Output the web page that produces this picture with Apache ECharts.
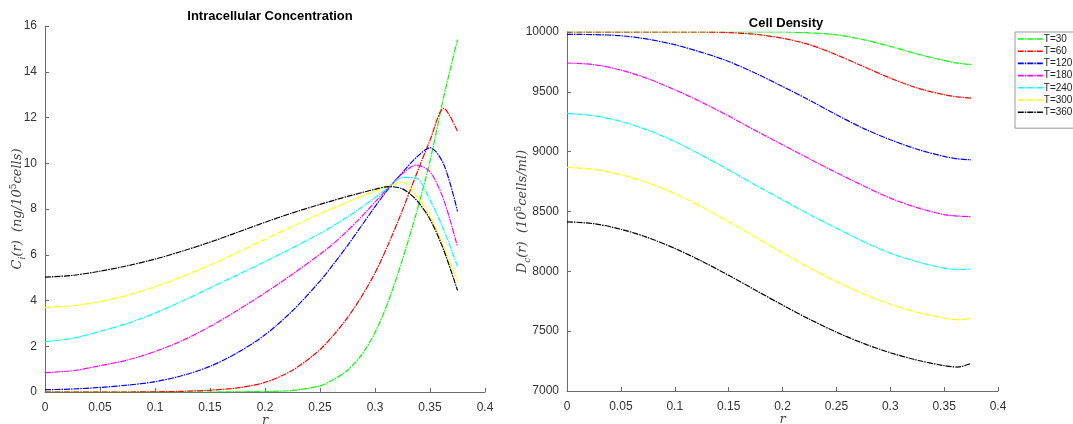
<!DOCTYPE html>
<html>
<head>
<meta charset="utf-8">
<script src="https://cdn.jsdelivr.net/npm/echarts@6/dist/echarts.min.js"></script>
<style>
	html, body { margin: 0; padding: 0; background: #fff; }
	#main { width: 1073px; height: 424px; }
</style>
</head>
<body>
<div id="main"></div>
<script>
// radial positions (left plot has extra points near the edge)
var leftR = [0, 0.025, 0.05, 0.075, 0.1, 0.125, 0.15, 0.175, 0.2, 0.225, 0.25, 0.2625, 0.275, 0.2875, 0.3, 0.3125, 0.325, 0.3375, 0.35, 0.3625, 0.375];
var rightR = [0, 0.025, 0.05, 0.075, 0.1, 0.125, 0.15, 0.175, 0.2, 0.225, 0.25, 0.275, 0.3, 0.325, 0.35, 0.3625, 0.375];

var names = ['T=30', 'T=60', 'T=120', 'T=180', 'T=240', 'T=300', 'T=360'];
var colors = ['#00ff00', '#ff0000', '#0000ff', '#ff00ff', '#00ffff', '#ffff00', '#000000'];

// intracellular concentration Ci(r)
var conc30  = [0, 0, 0, 0, 0, 0, 0, 0.01, 0.02, 0.07, 0.27, 0.55, 0.95, 1.6, 2.6, 4.0, 5.8, 7.8, 10.1, 12.9, 15.4];
var conc60  = [0, 0, 0, 0, 0.01, 0.03, 0.08, 0.18, 0.42, 0.95, 1.85, 2.5, 3.25, 4.15, 5.2, 6.5, 7.95, 9.5, 11.0, 12.4, 11.4];
var conc120 = [0.1, 0.13, 0.2, 0.3, 0.45, 0.72, 1.12, 1.72, 2.5, 3.55, 4.85, 5.6, 6.4, 7.25, 8.1, 8.9, 9.6, 10.25, 10.68, 9.95, 7.9];
var conc180 = [0.85, 0.93, 1.15, 1.4, 1.77, 2.25, 2.86, 3.57, 4.33, 5.15, 6.02, 6.5, 7.05, 7.65, 8.3, 8.95, 9.55, 9.92, 9.63, 8.4, 6.35];
var conc240 = [2.2, 2.35, 2.65, 3.0, 3.45, 3.98, 4.55, 5.12, 5.7, 6.3, 6.93, 7.28, 7.66, 8.07, 8.5, 8.95, 9.38, 9.35, 8.4, 7.1, 5.5];
var conc300 = [3.7, 3.77, 3.95, 4.23, 4.6, 5.05, 5.55, 6.1, 6.67, 7.24, 7.8, 8.05, 8.3, 8.55, 8.78, 9.0, 9.17, 8.6, 7.7, 6.36, 4.83];
var conc360 = [5.02, 5.1, 5.28, 5.52, 5.81, 6.16, 6.55, 6.98, 7.42, 7.83, 8.2, 8.38, 8.55, 8.71, 8.86, 8.98, 8.88, 8.4, 7.55, 6.2, 4.44];

// cell density Dc(r)
var dens30  = [10000, 10000, 10000, 10000, 10000, 10000, 10000, 10000, 10000, 9992, 9977, 9936, 9880, 9816, 9763, 9740, 9727];
var dens60  = [10000, 10000, 10000, 10000, 10000, 10000, 9995, 9980, 9948, 9894, 9810, 9712, 9615, 9532, 9476, 9458, 9448];
var dens120 = [9980, 9978, 9969, 9940, 9894, 9830, 9754, 9655, 9545, 9430, 9309, 9195, 9100, 9020, 8960, 8940, 8932];
var dens180 = [9741, 9727, 9682, 9610, 9518, 9413, 9298, 9176, 9058, 8940, 8825, 8715, 8612, 8532, 8474, 8462, 8457];
var dens240 = [9320, 9300, 9253, 9180, 9085, 8970, 8849, 8720, 8598, 8475, 8361, 8250, 8152, 8080, 8027, 8015, 8020];
var dens300 = [8868, 8852, 8808, 8740, 8650, 8540, 8415, 8285, 8155, 8030, 7915, 7812, 7725, 7658, 7610, 7594, 7608];
var dens360 = [8414, 8398, 8352, 8282, 8192, 8085, 7967, 7842, 7718, 7600, 7492, 7398, 7320, 7258, 7212, 7200, 7230];

var concList = [conc30, conc60, conc120, conc180, conc240, conc300, conc360];
var densList = [dens30, dens60, dens120, dens180, dens240, dens300, dens360];

var pairs = function(xs, ys) {
	return xs.map(function(x, i) { return [x, ys[i]]; });
};

var axisColor = '#6b6b6b';
var labelStyle = { color: '#333', fontFamily: 'Liberation Sans', fontSize: 12 };
var mathRich = {
	i: { fontFamily: 'DejaVu Serif', fontStyle: 'italic', fontSize: 13, color: '#444', lineHeight: 18 },
	s: { fontFamily: 'DejaVu Serif', fontStyle: 'italic', fontSize: 9, color: '#444', lineHeight: 10, verticalAlign: 'bottom' },
	p: { fontFamily: 'DejaVu Serif', fontSize: 9, color: '#444', lineHeight: 10, verticalAlign: 'top' }
};

var makeX = function(idx) {
	return {
		type: 'value', gridIndex: idx, min: 0, max: 0.4, interval: 0.05,
		name: 'r', nameLocation: 'middle', nameGap: 22, nameMoveOverlap: false,
		nameTextStyle: { fontFamily: 'DejaVu Serif', fontStyle: 'italic', fontSize: 13, color: '#444' },
		axisLine: { lineStyle: { color: axisColor } },
		axisTick: { inside: true, length: 4, lineStyle: { color: axisColor } },
		axisLabel: Object.assign({ margin: 10 }, labelStyle),
		splitLine: { show: false }
	};
};

var makeY = function(idx, min, max, step, name, gap) {
	return {
		type: 'value', gridIndex: idx, min: min, max: max, interval: step,
		name: name, nameLocation: 'middle', nameGap: gap, nameRotate: 90, nameMoveOverlap: false,
		nameTextStyle: { rich: mathRich },
		axisLine: { show: true, lineStyle: { color: axisColor } },
		axisTick: { show: true, inside: true, length: 4, lineStyle: { color: axisColor } },
		axisLabel: Object.assign({ formatter: function(v) { return String(v); } }, labelStyle),
		splitLine: { show: false }
	};
};

var series = [];
names.forEach(function(name, k) {
	var common = {
		name: name, type: 'line', smooth: 0.3, symbol: 'none',
		lineStyle: { color: colors[k], width: 1.2, type: [6, 1, 1.5, 1] },
		itemStyle: { color: colors[k] }
	};
	series.push(Object.assign({}, common, { xAxisIndex: 0, yAxisIndex: 0, data: pairs(leftR, concList[k]) }));
	series.push(Object.assign({}, common, { xAxisIndex: 1, yAxisIndex: 1, data: pairs(rightR, densList[k]) }));
});

var chart = echarts.init(document.getElementById('main'));
var option = {
	animation: false,
	backgroundColor: '#fff',
	title: [
		{ text: 'Intracellular Concentration', left: 265, textAlign: 'center', top: 5,
		  textStyle: { fontFamily: 'Liberation Sans', fontWeight: 'bold', fontSize: 13, color: '#000' } },
		{ text: 'Cell Density', left: 781, textAlign: 'center', top: 12,
		  textStyle: { fontFamily: 'Liberation Sans', fontWeight: 'bold', fontSize: 13, color: '#000' } }
	],
	legend: {
		orient: 'vertical', left: 1015, top: 32,
		data: names,
		itemWidth: 25, itemHeight: 8, itemGap: 0.2,
		padding: [1, 40, 10, 2],
		borderColor: '#999', borderWidth: 1,
		itemStyle: { opacity: 0 },
		lineStyle: { width: 1.6 },
		textStyle: { fontFamily: 'Liberation Sans', fontSize: 10, lineHeight: 12, color: '#222', padding: [0, 0, 0, -4] }
	},
	grid: [
		{ left: 45, top: 26, width: 440, height: 366, outerBoundsMode: 'none' },
		{ left: 567, top: 32, width: 431, height: 359, outerBoundsMode: 'none' }
	],
	xAxis: [makeX(0), makeX(1)],
	yAxis: [
		makeY(0, 0, 16, 2, '{i|C}{s|i}{i|(r)  (ng/10}{p|5}{i|cells)}', 18),
		makeY(1, 7000, 10000, 500, '{i|D}{s|c}{i|(r)  (10}{p|5}{i|cells/ml)}', 35)
	],
	series: series
};
chart.setOption(option, true);
</script>
</body>
</html>
